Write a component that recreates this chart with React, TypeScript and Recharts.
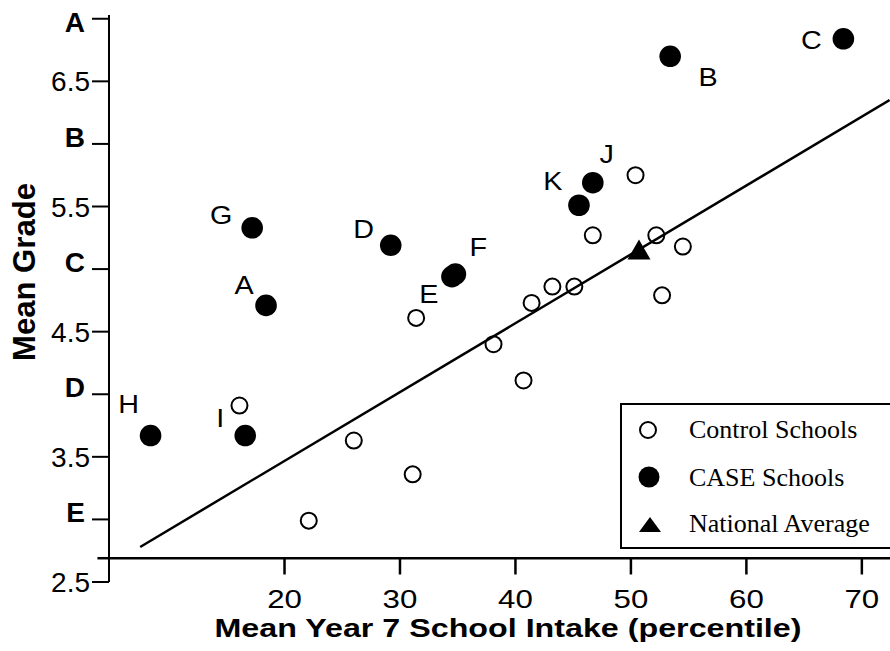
import React from "react";
import {
  ScatterChart,
  Scatter,
  XAxis,
  YAxis,
  ReferenceLine,
} from "recharts";

// axis ticks
const xTicks = [20, 30, 40, 50, 60, 70];
const yTicks = [2.5, 3, 3.5, 4, 4.5, 5, 5.5, 6, 6.5, 7];
const yTickLabels = ["2.5", "E", "3.5", "D", "4.5", "C", "5.5", "B", "6.5", "A"];

// CASE schools (filled)
const caseNames = ["A", "B", "C", "D", "E", "F", "G", "H", "I", "J", "K"];
const caseX = [18.4, 53.4, 68.4, 29.2, 34.5, 34.8, 17.2, 8.4, 16.6, 46.7, 45.5];
const caseY = [4.71, 6.7, 6.84, 5.19, 4.94, 4.96, 5.33, 3.67, 3.67, 5.69, 5.51];

// control schools (open)
const controlX = [50.4, 46.7, 52.2, 54.5, 43.2, 45.1, 41.4, 52.7, 31.4, 38.1, 40.7, 16.1, 26.0, 31.1, 22.1];
const controlY = [5.75, 5.27, 5.27, 5.18, 4.86, 4.86, 4.73, 4.79, 4.61, 4.4, 4.11, 3.91, 3.63, 3.36, 2.99];

// national average
const nationalX = [50.7];
const nationalY = [5.13];

// regression line end points
const trendX = [7.5, 72.4];
const trendY = [2.78, 6.35];

// grade at which the x axis line is drawn
const xAxisGrade = 2.69;

const caseData = caseNames.map((name, i) => ({ name, x: caseX[i], y: caseY[i] }));
const controlData = controlX.map((x, i) => ({ x, y: controlY[i] }));
const nationalData = nationalX.map((x, i) => ({ x, y: nationalY[i] }));

// where each school letter sits relative to its dot (px)
const labelOffset: Record<string, [number, number]> = {
  A: [-22, -20],
  B: [38, 21],
  C: [-32, 1],
  D: [-27, -16],
  E: [-23, 17],
  F: [23, -27],
  G: [-31, -13],
  H: [-22, -32],
  I: [-25, -18],
  J: [14, -29],
  K: [-26, -24],
};

const SANS = '"Liberation Sans", Arial, Helvetica, sans-serif';
const SERIF = '"Liberation Serif", "Times New Roman", serif';

const CaseDot = (props: any) => {
  const { cx, cy, payload } = props;
  const [dx, dy] = labelOffset[payload.name] || [0, 0];
  return (
    <g>
      <circle cx={cx} cy={cy} r={10.8} fill="#000" />
      <text
        transform={`translate(${cx + dx},${cy + dy + 9}) scale(1.15,1)`}
        textAnchor="middle"
        fontFamily={SANS}
        fontSize={25}
        fill="#000"
      >
        {payload.name}
      </text>
    </g>
  );
};

const ControlDot = (props: any) => (
  <circle cx={props.cx} cy={props.cy} r={8} fill="none" stroke="#000" strokeWidth={2} />
);

const NationalMark = (props: any) => {
  const { cx, cy } = props;
  return (
    <polygon
      points={`${cx},${cy - 13.3} ${cx - 11.5},${cy + 6.7} ${cx + 11.5},${cy + 6.7}`}
      fill="#000"
    />
  );
};

const YTick = (props: any) => {
  const { x, y, payload } = props;
  const label = yTickLabels[yTicks.indexOf(payload.value)] ?? String(payload.value);
  const isLetter = /^[A-Z]$/.test(label);
  if (isLetter) {
    const shift = label === "A" ? 3 : -7;
    return (
      <text x={x - 5} y={y + 10 + shift} textAnchor="end" fontFamily={SANS} fontWeight="bold" fontSize={28} fill="#000">
        {label}
      </text>
    );
  }
  return (
    <text x={x} y={y + 10} textAnchor="end" fontFamily={SANS} fontSize={28} fill="#000">
      {label}
    </text>
  );
};

const XTick = (props: any) => {
  const { x, y, payload } = props;
  return (
    <text
      transform={`translate(${x},${y + 26}) scale(1.25,1)`}
      textAnchor="middle"
      fontFamily={SANS}
      fontSize={25}
      fill="#000"
    >
      {payload.value}
    </text>
  );
};

const legendRow = (top: number): React.CSSProperties => ({
  position: "absolute",
  left: 67,
  top,
  fontFamily: SERIF,
  fontSize: 26,
  lineHeight: "30px",
  whiteSpace: "nowrap",
  color: "#000",
});

export default function App() {
  return (
    <div
      style={{
        position: "absolute",
        left: 0,
        top: 0,
        width: 890,
        height: 651,
        overflow: "hidden",
        background: "#fff",
      }}
    >
      <ScatterChart width={960} height={651} margin={{ top: 15, right: 0, bottom: 0, left: 0 }}>
        <XAxis
          type="number"
          dataKey="x"
          domain={[4.8, 78.5]}
          ticks={xTicks}
          interval={0}
          allowDataOverflow
          axisLine={false}
          tickLine={false}
          tickSize={0}
          tickMargin={0}
          height={69}
          tick={<XTick />}
          label={{
            content: () => (
              <text
                x={508}
                y={637}
                textAnchor="middle"
                fontFamily={SANS}
                fontWeight="bold"
                fontSize={26}
                textLength={587}
                lengthAdjust="spacingAndGlyphs"
                fill="#000"
              >
                Mean Year 7 School Intake (percentile)
              </text>
            ),
          }}
        />
        <YAxis
          type="number"
          dataKey="y"
          domain={[2.5, 7.03]}
          ticks={yTicks}
          interval={0}
          allowDataOverflow
          width={109}
          tickSize={17}
          tickMargin={2}
          axisLine={{ stroke: "#000", strokeWidth: 2 }}
          tickLine={{ stroke: "#000", strokeWidth: 2 }}
          tick={<YTick />}
          label={{
            content: () => (
              <text
                x={35}
                y={272}
                transform="rotate(-90, 35, 272)"
                textAnchor="middle"
                fontFamily={SANS}
                fontWeight="bold"
                fontSize={31}
                textLength={178}
                lengthAdjust="spacingAndGlyphs"
                fill="#000"
              >
                Mean Grade
              </text>
            ),
          }}
        />

        {/* x axis line sits above the 2.5 tick */}
        <ReferenceLine y={xAxisGrade} stroke="#000" strokeWidth={2.5} />
        <ReferenceLine
          segment={[
            { x: 3.8, y: xAxisGrade },
            { x: 4.8, y: xAxisGrade },
          ]}
          ifOverflow="visible"
          stroke="#000"
          strokeWidth={2.5}
        />
        {xTicks.map((t) => (
          <ReferenceLine
            key={t}
            segment={[
              { x: t, y: xAxisGrade },
              { x: t, y: xAxisGrade - 0.13 },
            ]}
            stroke="#000"
            strokeWidth={2.5}
          />
        ))}

        <ReferenceLine
          segment={[
            { x: trendX[0], y: trendY[0] },
            { x: trendX[1], y: trendY[1] },
          ]}
          stroke="#000"
          strokeWidth={2.5}
        />

        <Scatter data={controlData} shape={<ControlDot />} isAnimationActive={false} />
        <Scatter data={caseData} shape={<CaseDot />} isAnimationActive={false} />
        <Scatter data={nationalData} shape={<NationalMark />} isAnimationActive={false} />
      </ScatterChart>

      {/* legend box, runs off the right edge like the original */}
      <div
        style={{
          position: "absolute",
          left: 620,
          top: 403,
          width: 400,
          height: 146,
          boxSizing: "border-box",
          borderTop: "2px solid #000",
          borderLeft: "2px solid #000",
          borderBottom: "2px solid #000",
          background: "#fff",
        }}
      >
        <svg width={60} height={140} style={{ position: "absolute", left: -2, top: -2 }}>
          <circle cx={28} cy={27} r={8} fill="none" stroke="#000" strokeWidth={2} />
          <circle cx={29} cy={74} r={10.5} fill="#000" />
          <polygon points="30,114 19,129 41,129" fill="#000" />
        </svg>
        <div style={legendRow(10)}>Control Schools</div>
        <div style={legendRow(58)}>CASE Schools</div>
        <div style={legendRow(104)}>National Average</div>
      </div>
    </div>
  );
}
